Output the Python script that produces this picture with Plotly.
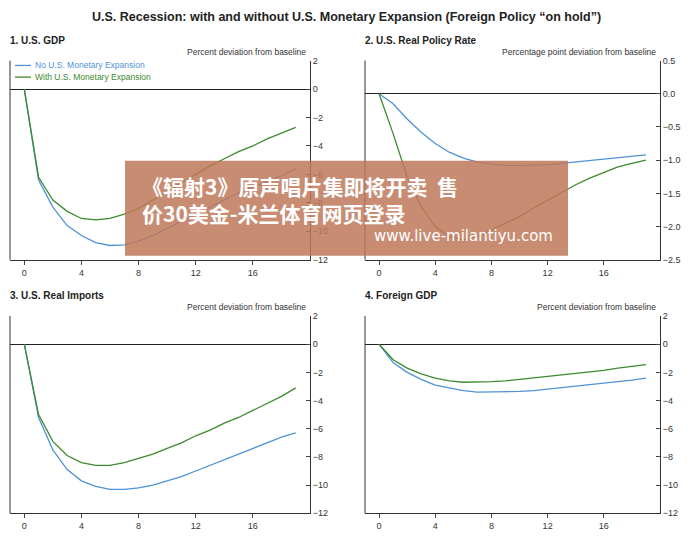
import plotly.graph_objects as go

quarters = list(range(20))
gdp_no = [0,-6.4,-8.3,-9.6,-10.3,-10.8,-11.0,-10.95,-10.7,-10.3,-9.8,-9.3,-8.8,-8.3,-7.8,-7.3,-6.9,-6.5,-6.1,-5.6]
gdp_with = [0,-6.2,-7.8,-8.6,-9.1,-9.2,-9.1,-8.8,-8.4,-7.8,-7.2,-6.6,-6.0,-5.4,-4.9,-4.4,-4.0,-3.5,-3.1,-2.7]
rate_no = [0,-0.15,-0.38,-0.58,-0.75,-0.88,-0.97,-1.03,-1.06,-1.08,-1.08,-1.08,-1.07,-1.05,-1.03,-1.01,-0.98,-0.96,-0.94,-0.92]
rate_with = [0,-0.6,-1.25,-1.7,-2.0,-2.15,-2.2,-2.15,-2.05,-1.95,-1.85,-1.72,-1.6,-1.48,-1.37,-1.27,-1.18,-1.1,-1.05,-1.0]
imp_no = [0,-5.2,-7.5,-8.9,-9.7,-10.1,-10.3,-10.3,-10.2,-10.0,-9.7,-9.4,-9.0,-8.6,-8.2,-7.8,-7.4,-7.0,-6.6,-6.3]
imp_with = [0,-5.0,-6.9,-7.9,-8.4,-8.6,-8.6,-8.4,-8.1,-7.8,-7.4,-7.0,-6.5,-6.1,-5.6,-5.2,-4.7,-4.2,-3.7,-3.1]
fgdp_no = [0,-1.3,-2.0,-2.5,-2.9,-3.1,-3.3,-3.4,-3.4,-3.4,-3.35,-3.3,-3.2,-3.1,-3.0,-2.9,-2.8,-2.7,-2.55,-2.4]
fgdp_with = [0,-1.1,-1.7,-2.1,-2.4,-2.6,-2.7,-2.7,-2.65,-2.6,-2.5,-2.4,-2.3,-2.2,-2.1,-2.0,-1.85,-1.7,-1.6,-1.45]
series_names = ["No U.S. Monetary Expansion", "With U.S. Monetary Expansion"]

BLUE = "#4d93d6"
GREEN = "#3d8a2e"
OFF = 8
W, H = 693 - 2 * OFF, 539 - 2 * OFF

def px(x):
    return (x - OFF) / W

def py(y):
    return 1 - (y - OFF) / H

fig = go.Figure()

panels = [
    (1, gdp_no, gdp_with, [10, 310], [57, 262], [-12, 2], list(range(-12, 3, 2)), "1. U.S. GDP", "Percent deviation from baseline", None),
    (2, rate_no, rate_with, [365, 660], [57, 262], [-2.5, 0.5], [-2.5,-2,-1.5,-1,-0.5,0,0.5], "2. U.S. Real Policy Rate", "Percentage point deviation from baseline", ".1f"),
    (3, imp_no, imp_with, [10, 310], [320, 523], [-12, 2], list(range(-12, 3, 2)), "3. U.S. Real Imports", "Percent deviation from baseline", None),
    (4, fgdp_no, fgdp_with, [365, 660], [320, 523], [-12, 2], list(range(-12, 3, 2)), "4. Foreign GDP", "Percent deviation from baseline", None),
]
for i, no, wi, xp, yp, yr, yt, title, unit, fmt in panels:
    sfx = "" if i == 1 else str(i)
    xa, ya = "x" + sfx, "y" + sfx
    fig.add_trace(go.Scatter(x=quarters, y=no, mode="lines", line=dict(color=BLUE, width=1.3),
                             name=series_names[0], xaxis=xa, yaxis=ya, showlegend=False))
    fig.add_trace(go.Scatter(x=quarters, y=wi, mode="lines", line=dict(color=GREEN, width=1.3),
                             name=series_names[1], xaxis=xa, yaxis=ya, showlegend=False))
    dx = [px(xp[0]), px(xp[1])]
    dy = [py(yp[1]), py(yp[0])]
    fig.layout["xaxis" + sfx] = dict(domain=dx, range=[-1, 20], tickvals=[0, 4, 8, 12, 16], showgrid=False,
                                     zeroline=False, showline=True, linecolor="#333", ticks="outside",
                                     ticklen=4, tickfont=dict(size=9, color="#333"), anchor=ya)
    fig.layout["yaxis" + sfx] = dict(domain=dy, range=yr, tickvals=yt, side="right", showgrid=False,
                                     zeroline=True, zerolinecolor="#222", zerolinewidth=1,
                                     showline=True, linecolor="#333", ticks="inside", ticklen=4,
                                     tickformat=fmt, tickfont=dict(size=9, color="#333"), anchor=xa)
    fig.add_shape(type="line", xref="paper", yref="paper", x0=dx[0], x1=dx[0], y0=dy[0], y1=dy[1],
                  line=dict(color="#333", width=1))
    fig.add_annotation(text="<b>" + title + "</b>", xref="paper", yref="paper", x=px(xp[0] - 2),
                       y=py(yp[0] - 21), xanchor="left", yanchor="middle", showarrow=False,
                       font=dict(size=10, color="#222"))
    fig.add_annotation(text=unit, xref="paper", yref="paper", x=px(xp[1] - 2), y=py(yp[0] - 9),
                       xanchor="right", yanchor="middle", showarrow=False, font=dict(size=8.5, color="#333"))

# legend (panel 1)
for k, (nm, col) in enumerate(zip(series_names, [BLUE, GREEN])):
    yy = 62 + 12 * k
    fig.add_shape(type="line", xref="paper", yref="paper", x0=px(15), x1=px(31), y0=py(yy), y1=py(yy),
                  line=dict(color=col, width=1.3))
    fig.add_annotation(text=nm, xref="paper", yref="paper", x=px(33), y=py(yy), xanchor="left",
                       yanchor="middle", showarrow=False, font=dict(size=8.5, color=col))

fig.add_annotation(text="<b>U.S. Recession: with and without U.S. Monetary Expansion (Foreign Policy \u201con hold\u201d)</b>",
                   xref="paper", yref="paper", x=px(346), y=py(12), yanchor="middle", showarrow=False,
                   font=dict(size=12.5, color="#222"))

# watermark overlay
fig.add_shape(type="rect", xref="paper", yref="paper", x0=px(125), x1=px(568), y0=py(258), y1=py(160),
              fillcolor="rgba(190,120,90,0.85)", line=dict(width=0), layer="above")
fig.add_annotation(text="<b>\u300a\u8f90\u5c043\u300b\u539f\u58f0\u5531\u7247\u96c6\u5373\u5c06\u5f00\u5356  \u552e<br>\u4ef730\u7f8e\u91d1-\u7c73\u5170\u4f53\u80b2\u7f51\u9875\u767b\u5f55</b>",
                   xref="paper", yref="paper", x=px(140), y=py(200), xanchor="left", yanchor="middle",
                   showarrow=False, align="left", font=dict(size=21, color="white", family="Noto Sans CJK SC"))
fig.add_annotation(text="www.live-milantiyu.com", xref="paper", yref="paper", x=px(555), y=py(238),
                   xanchor="right", yanchor="middle", showarrow=False, font=dict(size=15, color="white", family="DejaVu Sans"))

fig.update_layout(width=W, height=H, margin=dict(l=0, r=0, t=0, b=0), plot_bgcolor="white", paper_bgcolor="white",
                  font=dict(family="Liberation Sans, Arial, sans-serif"), showlegend=False)
fig.write_html("out.html")
